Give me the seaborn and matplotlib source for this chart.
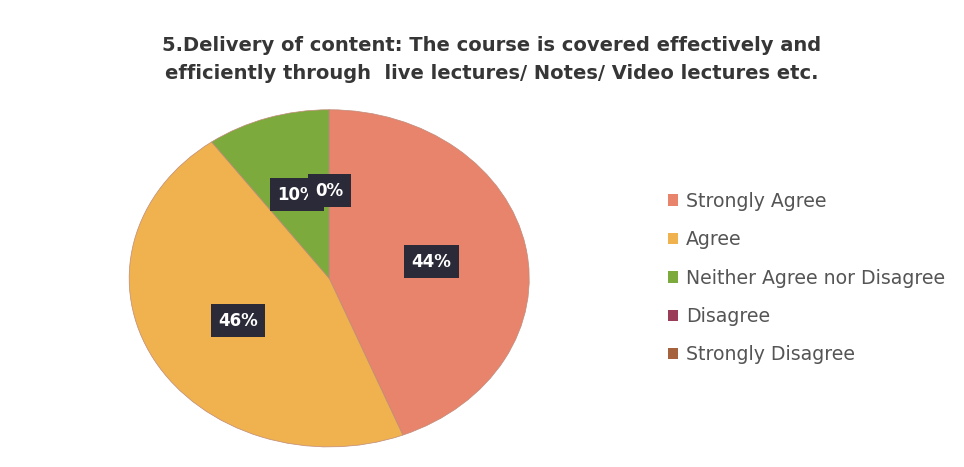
import matplotlib
matplotlib.use("Agg")
import matplotlib.pyplot as plt
import seaborn as sns
from matplotlib.patches import Patch

# ── Data ──────────────────────────────────────────────────────────────────────
categories = ["Strongly Agree", "Agree", "Neither Agree nor Disagree",
              "Disagree", "Strongly Disagree"]
shares = [44, 46, 10, 0, 0]
colors = ["#E8846C", "#EFB24E", "#7DAA3C", "#9B3C58", "#A6623C"]

TITLE = ("5.Delivery of content: The course is covered effectively and\n"
         "efficiently through  live lectures/ Notes/ Video lectures etc.")

sns.set_theme(style="white")
plt.rcParams["font.family"] = ["DejaVu Sans"]

fig = plt.figure(figsize=(9.64, 4.67), dpi=100)
fig.patch.set_facecolor("white")

# ── Title ─────────────────────────────────────────────────────────────────────
fig.text(0.51, 0.922, TITLE, ha="center", va="top", fontsize=14,
         fontweight="bold", color="#363636", linespacing=1.55)

# ── Pie (slightly stretched horizontally, like the source) ───────────────────
ax = fig.add_axes([0.134, 0.043, 0.415, 0.722])
wedges, texts, autotexts = ax.pie(
    shares, colors=colors, startangle=90, counterclock=False,
    autopct="%1.0f%%", pctdistance=0.52,
    wedgeprops=dict(linewidth=0.5, edgecolor="#c08a78"),
    textprops=dict(color="white", fontsize=12, fontweight="bold"),
)
for t in autotexts:
    t.set_bbox(dict(boxstyle="square,pad=0.45", facecolor="#2b2a38",
                    edgecolor="none"))
ax.set_aspect("auto")
ax.set_xlim(-1, 1)
ax.set_ylim(-1, 1)

# ── Legend ────────────────────────────────────────────────────────────────────
handles = [Patch(facecolor=c, edgecolor="none") for c in colors]
fig.legend(handles, categories, loc="upper left",
           bbox_to_anchor=(0.675, 0.626), frameon=False, fontsize=13.6,
           labelcolor="#555555", handlelength=0.55, handleheight=0.55,
           handletextpad=0.4, labelspacing=1.03)

fig.savefig("out.png", dpi=100, facecolor="white")
